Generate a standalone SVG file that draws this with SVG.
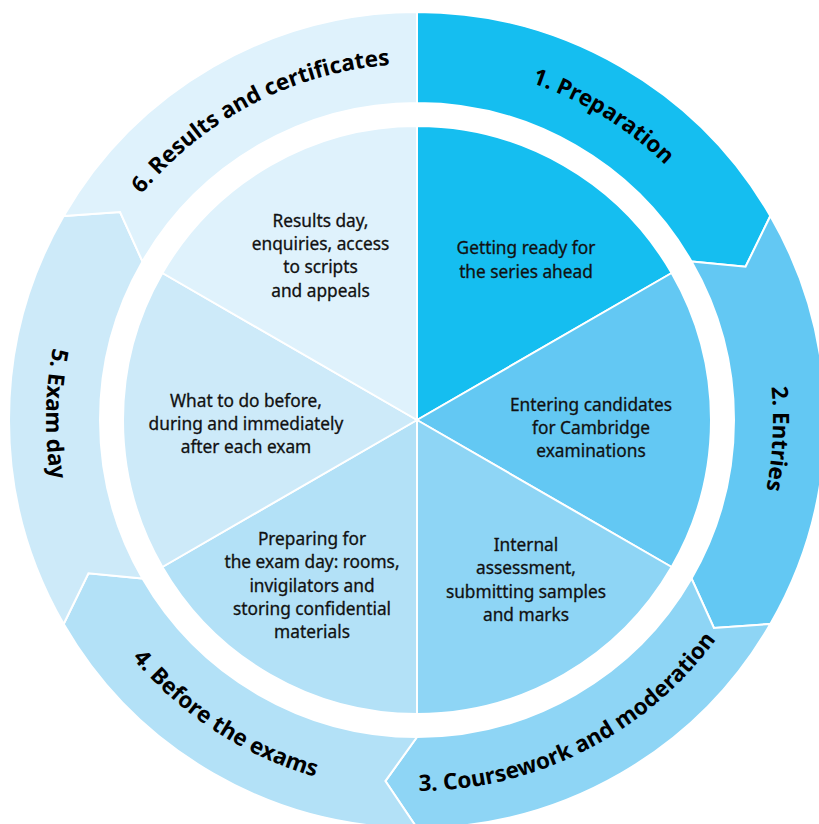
<svg xmlns="http://www.w3.org/2000/svg" width="819" height="824" viewBox="0 0 819 824">
  <style>
    .seg { stroke: #ffffff; stroke-width: 2; stroke-linejoin: miter; }
    .c1 { fill: #15BEF0; }
    .c2 { fill: #63C8F3; }
    .c3 { fill: #8ED5F5; }
    .c4 { fill: #B3E1F7; }
    .c5 { fill: #CDEAF9; }
    .c6 { fill: #DFF2FC; }
    .body { font-family: "Noto Sans", "Open Sans", sans-serif; font-size: 17.3px; fill: #111111; stroke: #111111; stroke-width: 0.3px; text-anchor: middle; }
    .lbl { font-family: "Noto Sans", "Open Sans", sans-serif; font-size: 22.5px; font-weight: bold; fill: #000000; text-anchor: middle; }
  </style>
  <defs>
    <path id="arc1" d="M 304.04 82.40 A 356 356 0 0 1 769.09 367.38"/>
    <path id="arc2" d="M 659.79 159.64 A 356 356 0 0 1 631.25 704.32"/>
    <path id="arc3" d="M 272.04 761.51 A 371 371 0 0 0 778.49 503.46"/>
    <path id="arc4" d="M 48.76 465.21 A 371 371 0 0 0 525.47 774.79"/>
    <path id="arc5" d="M 183.52 131.68 A 371 371 0 0 0 173.60 700.00"/>
    <path id="arc6" d="M 69.44 342.95 A 356 356 0 0 1 553.23 91.10"/>
  </defs>
  <rect x="0" y="0" width="819" height="824" fill="#ffffff"/>

  <g id="stage1">
    <path class="seg c1" d="M 417 12 A 408 408 0 0 1 770.34 216 L 745.54 266.8 L 691.53 261.5 A 317 317 0 0 0 417 103 Z"/>
    <path class="seg c1" d="M 417 420 L 417 126 A 294 294 0 0 1 671.61 273 Z"/>
    <text class="lbl"><textPath href="#arc1" startOffset="50%">1. Preparation</textPath></text>
    <text class="body"><tspan x="526" y="254">Getting ready for</tspan><tspan x="526" y="277.5">the series ahead</tspan></text>
  </g>

  <g id="stage2">
    <path class="seg c2" d="M 770.34 216 A 408 408 0 0 1 770.34 624 L 713.94 627.92 L 691.53 578.5 A 317 317 0 0 0 691.53 261.5 L 745.54 266.8 Z"/>
    <path class="seg c2" d="M 417 420 L 671.61 273 A 294 294 0 0 1 671.61 567 Z"/>
    <text class="lbl"><textPath href="#arc2" startOffset="50%">2. Entries</textPath></text>
    <text class="body"><tspan x="591" y="410.5">Entering candidates</tspan><tspan x="591" y="433.5">for Cambridge</tspan><tspan x="591" y="456.5">examinations</tspan></text>
  </g>

  <g id="stage3">
    <path class="seg c3" d="M 770.34 624 A 408 408 0 0 1 417 828 L 385.4 781.12 L 417 737 A 317 317 0 0 0 691.53 578.5 L 713.94 627.92 Z"/>
    <path class="seg c3" d="M 417 420 L 671.61 567 A 294 294 0 0 1 417 714 Z"/>
    <text class="lbl"><textPath href="#arc3" startOffset="50%">3. Coursework and moderation</textPath></text>
    <text class="body"><tspan x="526" y="551">Internal</tspan><tspan x="526" y="574">assessment,</tspan><tspan x="526" y="597.5">submitting samples</tspan><tspan x="526" y="620.5">and marks</tspan></text>
  </g>

  <g id="stage4">
    <path class="seg c4" d="M 417 828 A 408 408 0 0 1 63.66 624 L 88.46 573.2 L 142.47 578.5 A 317 317 0 0 0 417 737 L 385.4 781.12 Z"/>
    <path class="seg c4" d="M 417 420 L 417 714 A 294 294 0 0 1 162.39 567 Z"/>
    <text class="lbl"><textPath href="#arc4" startOffset="50%">4. Before the exams</textPath></text>
    <text class="body"><tspan x="312" y="545">Preparing for</tspan><tspan x="312" y="568.3">the exam day: rooms,</tspan><tspan x="312" y="591.6">invigilators and</tspan><tspan x="312" y="614.9">storing confidential</tspan><tspan x="312" y="638.2">materials</tspan></text>
  </g>

  <g id="stage5">
    <path class="seg c5" d="M 63.66 624 A 408 408 0 0 1 63.66 216 L 120.06 212.08 L 142.47 261.5 A 317 317 0 0 0 142.47 578.5 L 88.46 573.2 Z"/>
    <path class="seg c5" d="M 417 420 L 162.39 567 A 294 294 0 0 1 162.39 273 Z"/>
    <text class="lbl"><textPath href="#arc5" startOffset="50%">5. Exam day</textPath></text>
    <text class="body"><tspan x="246" y="406.5">What to do before,</tspan><tspan x="246" y="430">during and immediately</tspan><tspan x="246" y="453">after each exam</tspan></text>
  </g>

  <g id="stage6">
    <path class="seg c6" d="M 63.66 216 A 408 408 0 0 1 417 12 L 417 103 A 317 317 0 0 0 142.47 261.5 L 120.06 212.08 Z"/>
    <path class="seg c6" d="M 417 420 L 162.39 273 A 294 294 0 0 1 417 126 Z"/>
    <text class="lbl"><textPath href="#arc6" startOffset="50%">6. Results and certificates</textPath></text>
    <text class="body"><tspan x="320.5" y="226.5">Results day,</tspan><tspan x="320.5" y="250">enquiries, access</tspan><tspan x="320.5" y="273">to scripts</tspan><tspan x="320.5" y="296.5">and appeals</tspan></text>
  </g>
</svg>
